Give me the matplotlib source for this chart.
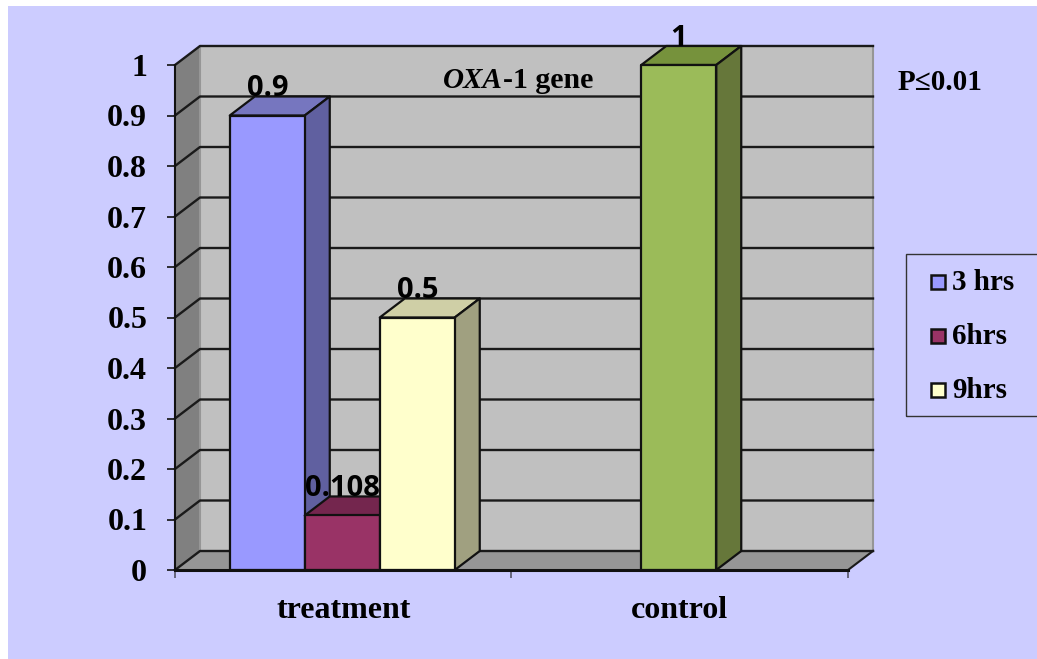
import matplotlib
matplotlib.use("Agg")
import matplotlib.pyplot as plt
from matplotlib.patches import Polygon, Rectangle

categories = ["treatment", "control"]
series_names = ["3 hrs", "6hrs", "9hrs"]
treatment_values = [0.9, 0.108, 0.5]
treatment_labels = ["0.9", "0.108", "0.5"]
control_value = 1.0
control_label = "1"
yticks = [0, 0.1, 0.2, 0.3, 0.4, 0.5, 0.6, 0.7, 0.8, 0.9, 1]
ytick_labels = ["0", "0.1", "0.2", "0.3", "0.4", "0.5", "0.6", "0.7", "0.8", "0.9", "1"]
front_colors = ["#9999FF", "#993366", "#FFFFCC"]
top_colors = ["#7676BF", "#74264E", "#CFCFA6"]
side_colors = ["#6060A0", "#602040", "#A0A080"]
control_colors = ("#9BBB59", "#76923C", "#66773A")

W, H = 1037, 659
L, R, T, B = 175, 848, 65, 570
SERIF = "Liberation Serif"
SANS = "Open Sans"

fig = plt.figure(figsize=(W / 100, H / 100), dpi=100, facecolor="white")
fig.patches.append(Rectangle((8 / W, 0), (W - 8) / W, (H - 6) / H,
                             transform=fig.transFigure, facecolor="#CCCCFF", edgecolor="none", zorder=-5))
ax = fig.add_axes([L / W, 1 - B / H, (R - L) / W, (B - T) / H])
ax.set_xlim(0, 2)
ax.set_ylim(0, 1)
ax.patch.set_alpha(0)
for s in ax.spines.values():
    s.set_visible(False)

px = 1 / ((R - L) / 2)
dx = 25 * px
dy = 19 / (B - T)
EDGE = "#111111"


def poly(pts, fc, ec=None, lw=1.6, z=2):
    ax.add_patch(Polygon(pts, closed=True, facecolor=fc, edgecolor=ec or "none", lw=lw,
                         zorder=z, clip_on=False, joinstyle="round"))


# walls and floor
poly([(dx, dy), (2 + dx, dy), (2 + dx, 1 + dy), (dx, 1 + dy)], "#C0C0C0", z=1)
poly([(0, 0), (dx, dy), (dx, 1 + dy), (0, 1)], "#808080", z=1)
poly([(0, 0), (2, 0), (2 + dx, dy), (dx, dy)], "#969696", z=1)
ax.plot([2 + dx, 2 + dx], [dy, 1 + dy], color="#969696", lw=1.5, zorder=1.1, clip_on=False)
ax.plot([dx, dx], [dy, 1 + dy], color="#969696", lw=1.5, zorder=1.1, clip_on=False)

# gridlines
for v in yticks:
    ax.plot([0, dx, 2 + dx], [v, v + dy, v + dy], color="#1a1a1a", lw=1.7, zorder=1.5,
            clip_on=False, solid_joinstyle="round")
ax.plot([2, 2 + dx], [0, dy], color="#1a1a1a", lw=1.5, zorder=1.5, clip_on=False)


def bar3d(x0, w, h, cols, z):
    poly([(x0, 0), (x0 + w, 0), (x0 + w, h), (x0, h)], cols[0], EDGE, z=z + 0.2)
    poly([(x0, h), (x0 + w, h), (x0 + w + dx, h + dy), (x0 + dx, h + dy)], cols[1], EDGE, z=z)
    poly([(x0 + w, 0), (x0 + w + dx, dy), (x0 + w + dx, h + dy), (x0 + w, h)], cols[2], EDGE, z=z)


bw = 75 * px
start = 0.5 - 1.5 * bw - px
lab_off = 0.0155
for i, (v, lab) in enumerate(zip(treatment_values, treatment_labels)):
    x0 = start + i * bw
    bar3d(x0, bw, v, (front_colors[i], top_colors[i], side_colors[i]), z=2 + i)
    ax.text(x0 + bw / 2, v + dy + lab_off, lab, ha="center", va="center", fontsize=21,
            fontweight="bold", family=SANS, color="black", zorder=10, clip_on=False)
bar3d(1.5 - bw / 2 - px, bw, control_value, control_colors, z=2)
ax.text(1.5 - px, control_value + dy + lab_off, control_label, ha="center", va="center", fontsize=21,
        fontweight="bold", family=SANS, color="black", zorder=10, clip_on=False)

# axes lines, ticks, labels
ax.plot([0, 0], [0, 1], color="#111111", lw=1.5, zorder=6, clip_on=False)
ax.plot([0, 2], [0, 0], color="#111111", lw=2.2, zorder=6, clip_on=False)
ax.set_yticks(yticks)
ax.set_yticklabels(ytick_labels, fontsize=23, fontweight="bold", family=SERIF)
ax.set_xticks([0, 1, 2])
ax.set_xticklabels([])
ax.tick_params(axis="y", length=6, width=1.2, color="#111111", pad=14)
ax.tick_params(axis="x", length=6, width=1.2, color="#555566")
for xc, name in zip([0.5, 1.5], categories):
    ax.annotate(name, (xc, 0), xytext=(0, -29.5), textcoords="offset points", ha="center",
                va="center", fontsize=23, fontweight="bold", family=SERIF, annotation_clip=False)

# annotations in figure coordinates
fig.text(443 / W, 1 - 81 / H, "OXA", fontsize=21, fontweight="bold", style="italic",
         family=SERIF, ha="left", va="center", zorder=20)
fig.text(503 / W, 1 - 81 / H, "-1 gene", fontsize=21.5, fontweight="bold", family=SERIF,
         ha="left", va="center", zorder=20)
fig.text(940 / W, 1 - 83 / H, "P≤0.01", fontsize=21, fontweight="bold", family=SERIF,
         ha="center", va="center", zorder=20)

# legend
fig.patches.append(Rectangle((906 / W, 1 - 416 / H), (W + 5 - 906) / W, (416 - 254) / H,
                             transform=fig.transFigure, facecolor="none", edgecolor="#333333", lw=1, zorder=5))
for name, col, yp in zip(series_names, front_colors, [283, 337, 391]):
    fig.patches.append(Rectangle((931 / W, 1 - (yp + 6) / H), 14 / W, 14 / H, transform=fig.transFigure,
                                 facecolor=col, edgecolor="#111111", lw=1.8, zorder=5))
    fig.text(952 / W, 1 - yp / H, name, fontsize=21, fontweight="bold", family=SERIF, ha="left", va="center")

fig.savefig("out.png", dpi=100)
